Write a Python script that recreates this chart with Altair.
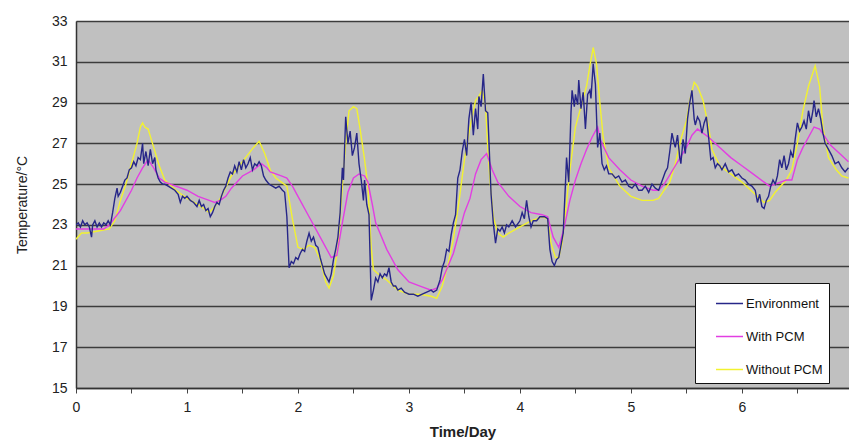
import altair as alt
import pandas as pd

env_day = [0.00,0.02,0.04,0.06,0.08,0.10,0.12,0.14,0.15,0.17,0.19,0.21,0.23,0.25,0.27,0.29,0.31,0.33,0.35,0.37,0.38,0.40,0.42,0.44,0.46,0.48,0.50,0.52,0.54,0.56,0.58,0.60,0.61,0.63,0.65,0.67,0.69,0.71,0.72,0.74,0.76,0.78,0.80,0.83,0.86,0.89,0.92,0.94,0.96,0.98,
           1.00,1.03,1.06,1.09,1.11,1.13,1.15,1.17,1.19,1.21,1.23,1.25,1.27,1.29,1.31,1.33,1.35,1.37,1.39,1.41,1.43,1.45,1.47,1.49,1.51,1.53,1.55,1.57,1.59,1.61,1.63,1.65,1.67,1.69,1.71,1.74,1.77,1.80,1.83,1.86,1.88,1.90,1.92,1.94,1.96,1.98,
           2.00,2.02,2.04,2.06,2.08,2.10,2.12,2.14,2.16,2.18,2.20,2.22,2.24,2.26,2.28,2.30,2.32,2.34,2.36,2.38,2.40,2.41,2.43,2.45,2.47,2.49,2.51,2.53,2.55,2.57,2.59,2.60,2.62,2.64,2.66,2.68,2.70,2.72,2.74,2.76,2.78,2.80,2.82,2.84,2.86,2.88,2.90,2.93,2.96,
           3.00,3.04,3.08,3.12,3.16,3.20,3.22,3.25,3.28,3.30,3.32,3.34,3.36,3.38,3.40,3.42,3.44,3.46,3.48,3.50,3.52,3.54,3.56,3.58,3.60,3.62,3.63,3.65,3.67,3.69,3.71,3.72,3.74,3.76,3.78,3.80,3.82,3.84,3.86,3.88,3.90,3.93,3.96,
           4.00,4.02,4.04,4.06,4.08,4.10,4.12,4.15,4.18,4.22,4.25,4.27,4.29,4.31,4.33,4.35,4.37,4.39,4.41,4.42,4.44,4.46,4.47,4.49,4.50,4.52,4.53,4.55,4.57,4.59,4.61,4.63,4.64,4.66,4.68,4.70,4.72,4.74,4.76,4.78,4.80,4.83,4.86,4.89,4.92,4.95,4.98,
           5.01,5.04,5.07,5.10,5.13,5.16,5.19,5.22,5.25,5.27,5.29,5.31,5.33,5.35,5.37,5.39,5.40,5.42,5.44,5.45,5.47,5.49,5.51,5.53,5.55,5.57,5.58,5.60,5.62,5.64,5.66,5.68,5.70,5.72,5.74,5.76,5.78,5.80,5.82,5.85,5.88,5.91,5.94,5.97,
           6.00,6.03,6.06,6.09,6.12,6.14,6.16,6.18,6.20,6.22,6.24,6.26,6.28,6.30,6.32,6.34,6.36,6.38,6.40,6.42,6.44,6.46,6.48,6.50,6.52,6.54,6.56,6.58,6.60,6.62,6.64,6.65,6.67,6.69,6.71,6.73,6.75,6.78,6.81,6.84,6.87,6.90,6.93,6.96]
env_temp = [23.0,23.1,22.9,23.2,23.0,23.1,22.9,22.4,23.0,23.2,22.9,23.1,22.9,23.1,23.0,23.2,23.0,23.6,24.3,24.8,24.4,24.6,24.9,25.2,25.3,25.7,25.8,26.1,25.9,26.3,26.2,27.0,26.0,26.6,25.9,26.7,26.0,26.3,25.7,25.3,25.1,25.0,25.0,24.9,24.8,24.7,24.5,24.1,24.4,24.3,
            24.4,24.2,24.1,23.9,24.2,23.9,24.0,23.7,23.8,23.4,23.6,23.9,24.1,24.0,24.4,24.7,24.9,25.3,25.6,25.5,25.9,25.6,26.1,25.7,26.2,25.8,26.0,26.3,25.7,26.0,25.9,26.1,25.9,25.4,25.2,25.0,24.9,24.8,24.9,24.7,24.6,23.4,20.9,21.2,21.1,21.4,
            21.3,21.6,21.8,21.7,22.2,22.6,22.2,22.4,22.0,21.9,21.4,21.0,20.6,20.4,20.2,20.6,21.3,21.8,22.4,23.6,25.8,25.2,28.3,27.0,27.6,26.4,26.8,27.5,26.0,25.2,24.2,25.2,24.0,23.5,19.3,19.8,20.4,20.2,20.6,20.4,20.6,20.5,20.9,20.2,20.0,20.0,19.8,19.9,19.7,
            19.6,19.6,19.5,19.6,19.7,19.8,19.7,19.8,20.3,20.9,21.2,21.8,21.7,22.5,23.1,23.5,25.3,25.7,26.6,27.2,26.4,28.2,29.0,27.4,28.7,27.7,29.3,28.8,30.4,28.6,28.5,27.2,24.5,23.1,22.1,22.8,22.7,22.9,22.6,23.0,22.9,23.2,22.9,
            23.2,23.6,23.3,24.2,23.4,22.9,23.2,23.2,23.4,23.4,23.3,21.8,21.2,21.0,21.3,21.4,22.0,22.6,25.0,26.3,25.1,28.5,29.6,28.8,29.4,28.9,30.1,28.7,29.5,27.7,29.4,29.6,29.2,30.9,29.9,26.8,27.5,26.0,25.7,25.9,25.5,25.5,25.3,25.4,25.1,25.2,24.9,
            24.8,25.0,24.7,24.7,24.9,24.6,25.0,24.8,24.7,25.0,25.3,25.6,25.8,26.6,27.5,27.0,26.8,27.4,26.3,26.0,27.2,26.5,28.2,29.0,29.6,28.2,27.9,28.3,28.1,27.5,28.0,28.3,27.3,26.2,26.3,25.8,26.0,25.9,25.7,26.0,25.6,25.7,25.4,25.5,
            25.3,25.2,25.0,24.9,24.7,24.1,24.5,23.9,23.8,24.2,24.4,24.9,25.2,25.0,25.4,26.2,25.8,26.4,25.7,26.0,26.6,26.3,27.2,28.0,27.6,27.8,28.1,27.7,28.6,28.0,28.6,29.1,28.3,28.7,28.2,27.5,27.0,26.7,26.4,26.0,26.1,25.8,25.6,25.8]

pcm_day = [0.00,0.10,0.25,0.30,0.40,0.50,0.55,0.60,0.65,0.70,0.75,0.80,0.90,1.00,1.10,1.20,1.25,1.30,1.35,1.40,1.50,1.60,1.67,1.72,1.75,1.80,1.85,1.90,1.95,
           2.00,2.10,2.20,2.30,2.35,2.40,2.45,2.50,2.55,2.60,2.63,2.67,2.70,2.80,2.90,3.00,3.10,3.20,3.25,3.30,3.40,3.50,3.55,3.60,3.65,3.70,3.75,3.80,3.90,
           4.00,4.10,4.20,4.25,4.30,4.35,4.40,4.45,4.50,4.55,4.60,4.65,4.70,4.73,4.80,4.90,5.00,5.10,5.20,5.25,5.30,5.40,5.50,5.55,5.60,5.65,5.70,5.80,5.90,
           6.00,6.10,6.20,6.25,6.30,6.40,6.45,6.50,6.55,6.60,6.65,6.70,6.75,6.80,6.90,6.96]
pcm_temp = [22.8,22.8,22.8,23.0,23.7,24.7,25.3,25.8,26.2,25.8,25.3,25.1,24.9,24.7,24.4,24.2,24.1,24.2,24.4,24.8,25.4,25.7,26.0,25.8,25.6,25.5,25.4,25.3,24.9,
            24.4,23.4,22.4,21.4,21.5,23.1,24.6,25.3,25.5,25.4,25.1,24.0,23.1,21.8,20.8,20.2,20.0,19.8,19.9,20.3,21.6,23.6,24.3,25.5,26.2,26.5,25.7,25.1,24.4,
            23.9,23.6,23.5,23.4,22.4,21.9,22.9,24.2,25.2,26.0,26.7,27.3,27.8,27.1,26.3,25.7,25.2,24.9,24.7,24.7,25.0,25.9,26.8,27.4,27.7,27.5,27.3,26.8,26.3,
            25.9,25.5,25.1,24.9,25.0,25.2,25.2,26.2,26.8,27.3,27.8,27.7,27.3,26.9,26.4,26.1]

nopcm_day = [0.00,0.05,0.10,0.20,0.30,0.35,0.40,0.45,0.50,0.55,0.58,0.60,0.62,0.65,0.70,0.75,0.80,0.90,1.00,1.10,1.20,1.25,1.30,1.40,1.50,1.60,1.65,1.70,1.75,1.80,1.85,1.90,1.95,
             2.00,2.05,2.10,2.15,2.20,2.25,2.28,2.32,2.36,2.40,2.43,2.46,2.50,2.53,2.56,2.60,2.63,2.66,2.68,2.72,2.80,2.90,
             3.00,3.10,3.20,3.25,3.30,3.35,3.40,3.45,3.50,3.55,3.60,3.63,3.66,3.69,3.71,3.73,3.76,3.80,3.85,3.90,
             4.00,4.10,4.20,4.25,4.28,4.32,4.35,4.38,4.42,4.45,4.50,4.55,4.60,4.63,4.66,4.69,4.72,4.75,4.80,4.90,
             5.00,5.10,5.20,5.25,5.30,5.35,5.40,5.45,5.50,5.53,5.57,5.60,5.65,5.70,5.73,5.80,5.90,
             6.00,6.10,6.20,6.25,6.30,6.40,6.45,6.50,6.55,6.60,6.63,6.66,6.70,6.73,6.78,6.85,6.90,6.96]
nopcm_temp = [22.3,22.6,22.6,22.7,22.8,23.2,24.2,25.0,26.0,27.0,27.8,28.0,27.8,27.7,26.8,25.9,25.2,24.7,24.3,24.0,23.6,23.9,24.3,25.4,26.1,26.8,27.1,26.5,25.7,25.3,25.1,24.9,23.3,
              21.9,21.8,22.0,21.9,21.3,20.2,19.9,20.5,21.9,24.9,27.0,28.6,28.8,28.7,27.7,26.2,24.9,21.9,20.8,20.6,20.3,19.8,
              19.6,19.6,19.5,19.4,20.0,21.0,22.3,24.1,26.2,27.8,29.1,29.3,29.6,28.8,26.8,25.2,23.4,22.6,22.4,22.6,
              22.9,23.2,23.4,23.3,22.1,21.4,21.4,22.1,24.1,25.7,27.8,28.8,29.8,30.8,31.7,30.9,29.0,27.3,25.8,24.9,
              24.4,24.2,24.2,24.3,24.7,25.1,26.0,27.2,28.1,29.1,30.0,29.8,29.1,27.8,26.7,25.9,25.5,
              25.1,24.6,24.1,24.2,24.6,25.2,25.7,27.0,28.6,29.8,30.3,30.8,29.8,27.8,26.3,25.7,25.4,25.3]

series_names = ["Environment", "With PCM", "Without PCM"]
series_colors = ["#262688", "#e23ee2", "#f2f230"]
y_ticks = [15, 17, 19, 21, 23, 25, 27, 29, 31, 33]
x_ticks = [0, 0.5, 1, 1.5, 2, 2.5, 3, 3.5, 4, 4.5, 5, 5.5, 6, 6.5]

frames = []
for name, d, t in [("Environment", env_day, env_temp),
                   ("With PCM", pcm_day, pcm_temp),
                   ("Without PCM", nopcm_day, nopcm_temp)]:
    frames.append(pd.DataFrame({"day": d, "temp": t, "series": name}))
df = pd.concat(frames, ignore_index=True)

FONT = "Liberation Sans"

x_enc = alt.X("day:Q",
              scale=alt.Scale(domain=[0, 6.965], nice=False, zero=False),
              axis=alt.Axis(values=x_ticks, title="Time/Day",
                            labelExpr="datum.value % 1 == 0 ? format(datum.value, 'd') : ''",
                            labelFlush=False,
                            grid=False, ticks=True, tickSize=5, tickColor="#444444",
                            domainColor="#333333", domainWidth=1.5,
                            labelFontSize=14, labelFont=FONT, labelColor="#222222",
                            labelPadding=7, titleFont=FONT, titleFontSize=15,
                            titleFontWeight="bold", titleColor="#222222", titlePadding=10))
y_enc = alt.Y("temp:Q",
              scale=alt.Scale(domain=[15, 33], nice=False, zero=False),
              axis=alt.Axis(values=y_ticks, title="Temperature/°C",
                            grid=True, gridColor="#3c3c3c", gridWidth=1.5,
                            ticks=False, domainColor="#333333", domainWidth=1.5,
                            labelFontSize=14, labelFont=FONT, labelColor="#222222",
                            labelPadding=9, titleFont=FONT, titleFontSize=14,
                            titleFontWeight="normal", titleColor="#222222", titlePadding=22))
color_enc = alt.Color("series:N",
                      scale=alt.Scale(domain=series_names, range=series_colors),
                      legend=alt.Legend(title=None, orient="none", legendX=619, legendY=262,
                                        fillColor="white", strokeColor="#111111",
                                        padding=6, symbolOffset=14, symbolType="stroke",
                                        symbolSize=729, symbolStrokeWidth=1.5,
                                        labelFont=FONT, labelFontSize=13, labelColor="#111111",
                                        labelOffset=2, rowPadding=11))

layers = []
for name in ["Without PCM", "With PCM", "Environment"]:
    layers.append(
        alt.Chart(df).transform_filter(alt.datum.series == name)
        .mark_line(strokeWidth=1.4, clip=True)
        .encode(x=x_enc, y=y_enc, color=color_enc, order="day:Q")
    )

chart = alt.layer(*layers).properties(
    width=773, height=367,
    padding={"left": 76, "top": 21, "right": 0, "bottom": 59},
    autosize=alt.AutoSizeParams(type="none"),
    background="white",
).configure_view(fill="#c0c0c0", stroke="#a8a8a8")

chart.save("out.html", embed_options={"renderer": "svg", "actions": False})
